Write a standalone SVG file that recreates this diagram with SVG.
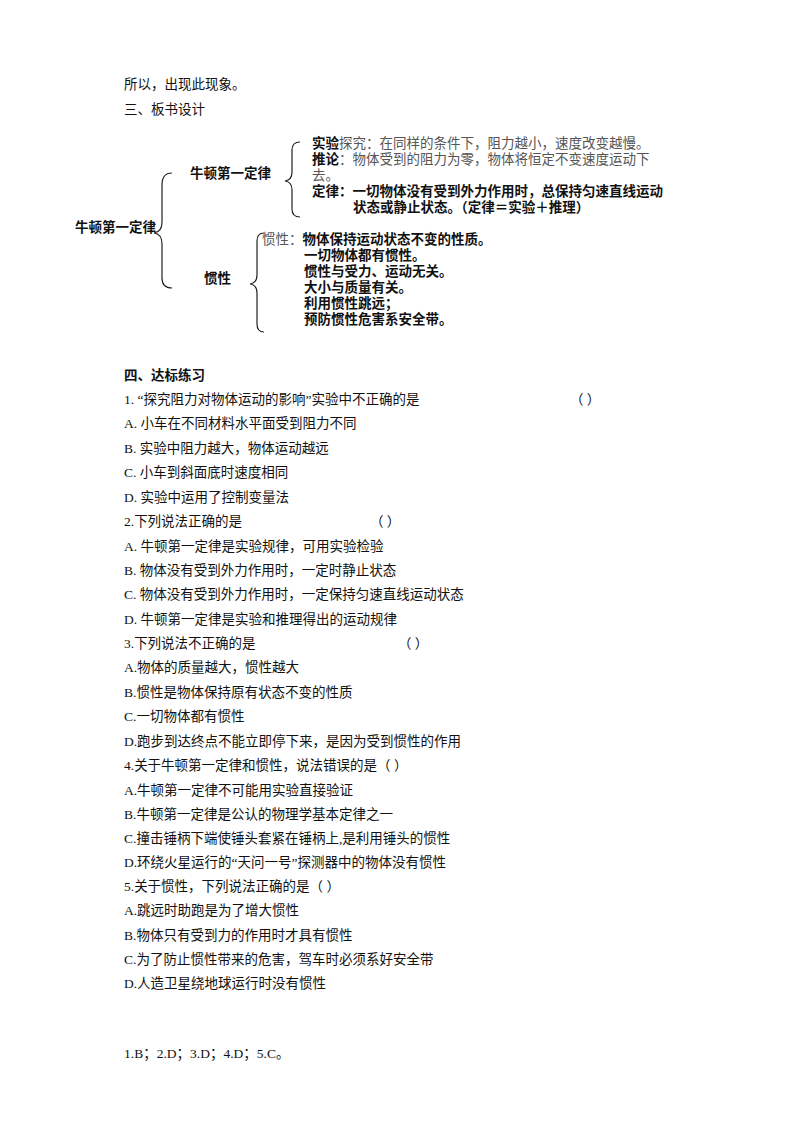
<svg xmlns="http://www.w3.org/2000/svg" width="800" height="1132" viewBox="0 0 800 1132">
<style>
text{font-family:"Liberation Serif","Noto Sans CJK SC",serif;font-size:13.5px;fill:#111}
.b{font-weight:bold}
.g{fill:#555}
.br{fill:none;stroke:#222;stroke-width:1.2}
</style>
<rect width="800" height="1132" fill="#fff"/>
<text x="124" y="89">所以，出现此现象。</text>
<text x="124" y="114">三、板书设计</text>
<g id="braces">
<path class="br" d="M172,173 Q162,173 162,185 L162,222 Q162,232 154,233 Q162,234 162,244 L162,278 Q162,288 172,288"/>
<path class="br" d="M300,142 Q292,142 292,150 L292,172 Q292,180 285,181 Q292,182 292,190 L292,209 Q292,217 300,217"/>
<path class="br" d="M264,233 Q257,233 257,241 L257,275 Q257,283 250,284 Q257,285 257,293 L257,324 Q257,332 264,332"/>
</g>
<g id="n1"><text class="b" x="75" y="232">牛顿第一定律</text></g>
<g id="n2"><text class="b" x="190" y="178">牛顿第一定律</text></g>
<g id="n3"><text class="b" x="204" y="283">惯性</text></g>
<g id="t1">
<text x="312" y="148"><tspan class="b">实验</tspan><tspan class="g">探究：在同样的条件下，阻力越小，速度改变越慢。</tspan></text>
<text x="312" y="164"><tspan class="b">推论</tspan><tspan class="g">：物体受到的阻力为零，物体将恒定不变速度运动下</tspan></text>
<text class="g" x="312" y="180">去。</text>
<text class="b" x="312" y="196">定律：一切物体没有受到外力作用时，总保持匀速直线运动</text>
<text class="b" x="353" y="212">状态或静止状态。（定律＝实验＋推理）</text>
</g>
<g id="t2">
<text x="262" y="244"><tspan class="g">惯性：</tspan><tspan class="b">物体保持运动状态不变的性质。</tspan></text>
<text class="b" x="304" y="260">一切物体都有惯性。</text>
<text class="b" x="304" y="276">惯性与受力、运动无关。</text>
<text class="b" x="304" y="292">大小与质量有关。</text>
<text class="b" x="304" y="308">利用惯性跳远；</text>
<text class="b" x="304" y="324">预防惯性危害系安全带。</text>
</g>
<text class="b" x="124" y="380">四、达标练习</text>
<text x="124" y="404">1. “探究阻力对物体运动的影响”实验中不正确的是</text><text x="570" y="404">（      ）</text>
<text x="124" y="428">A.  小车在不同材料水平面受到阻力不同</text>
<text x="124" y="453">B.  实验中阻力越大，物体运动越远</text>
<text x="124" y="477">C.  小车到斜面底时速度相同</text>
<text x="124" y="502">D.  实验中运用了控制变量法</text>
<text x="124" y="526">2.下列说法正确的是</text><text x="370" y="526">（        ）</text>
<text x="124" y="551">A.  牛顿第一定律是实验规律，可用实验检验</text>
<text x="124" y="575">B.  物体没有受到外力作用时，一定时静止状态</text>
<text x="124" y="599">C.  物体没有受到外力作用时，一定保持匀速直线运动状态</text>
<text x="124" y="624">D.  牛顿第一定律是实验和推理得出的运动规律</text>
<text x="124" y="648">3.下列说法不正确的是</text><text x="398" y="648">（        ）</text>
<text x="124" y="672">A.物体的质量越大，惯性越大</text>
<text x="124" y="697">B.惯性是物体保持原有状态不变的性质</text>
<text x="124" y="721">C.一切物体都有惯性</text>
<text x="124" y="746">D.跑步到达终点不能立即停下来，是因为受到惯性的作用</text>
<text x="124" y="770">4.关于牛顿第一定律和惯性，说法错误的是（      ）</text>
<text x="124" y="795">A.牛顿第一定律不可能用实验直接验证</text>
<text x="124" y="819">B.牛顿第一定律是公认的物理学基本定律之一</text>
<text x="124" y="843">C.撞击锤柄下端使锤头套紧在锤柄上,是利用锤头的惯性</text>
<text x="124" y="867">D.环绕火星运行的“天问一号”探测器中的物体没有惯性</text>
<text x="124" y="891">5.关于惯性，下列说法正确的是（      ）</text>
<text x="124" y="915">A.跳远时助跑是为了增大惯性</text>
<text x="124" y="940">B.物体只有受到力的作用时才具有惯性</text>
<text x="124" y="964">C.为了防止惯性带来的危害，驾车时必须系好安全带</text>
<text x="124" y="988">D.人造卫星绕地球运行时没有惯性</text>
<text x="124" y="1058">1.B；2.D；3.D；4.D；5.C。</text>
</svg>
